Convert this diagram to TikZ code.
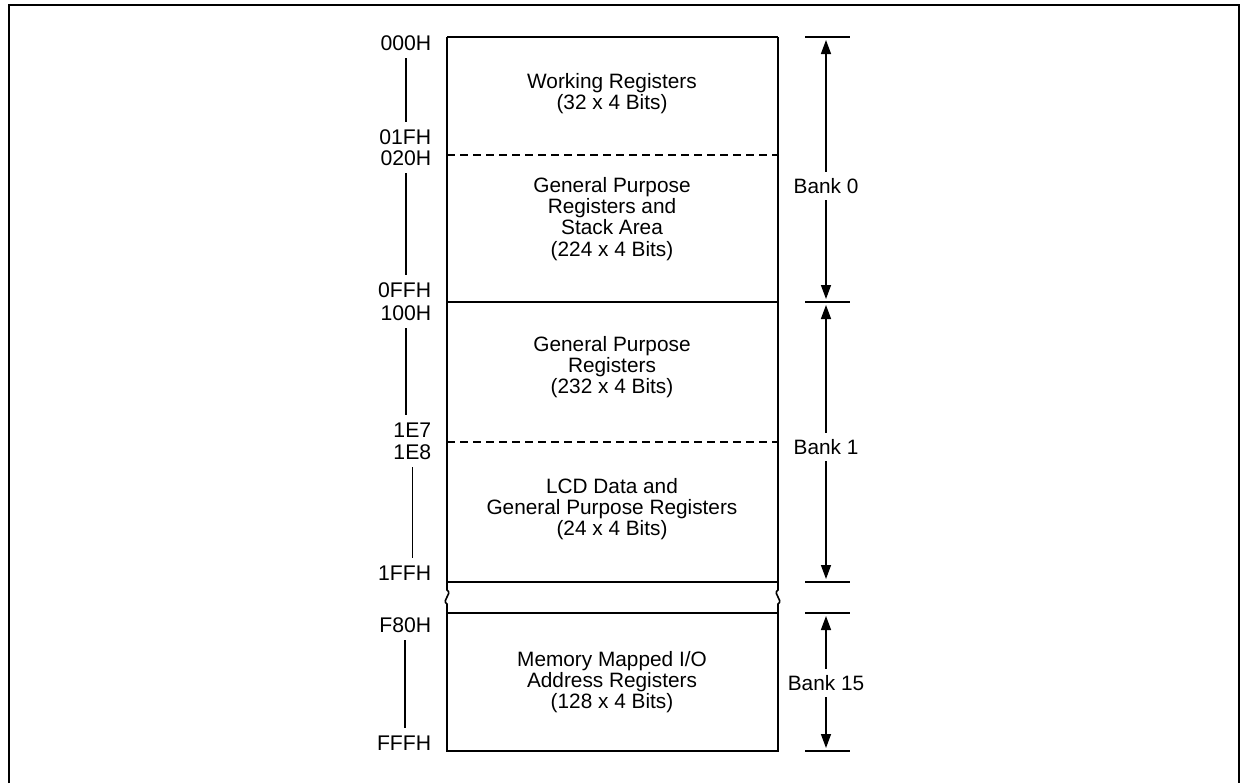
\documentclass[tikz,border=0pt]{standalone}
\usepackage{fontspec}
\setmainfont{Liberation Sans}
\usetikzlibrary{arrows.meta}

\begin{document}
\begin{tikzpicture}[
  x=0.5pt, y=-0.5pt,
  font=\fontsize{10.4}{10.6}\selectfont,
  >={Triangle[length=7pt,width=5pt]},
  line width=0.8pt,
  region/.style={align=center, inner sep=2pt},
  addr/.style={anchor=east, inner xsep=3pt, inner ysep=0.5pt, font=\fontsize{10.6}{11}\selectfont},
  span/.style={shorten <=3pt, shorten >=3pt},
  bank/.style={inner sep=3pt},
  divider/.style={dash pattern=on 4pt off 2.5pt},
  tick/.style={line width=0.8pt},
  arr/.style={->, line width=0.7pt, shorten >=1.5pt},
]
% Grid in pixels of the scan: map columns \xl..\xr, bank arrows at \xarr;
% rows are the region boundaries from top to bottom.
\def\xl{447}
\def\xr{778}
\def\xmid{612}
\def\xaddr{438}
\def\xarr{826}
\def\ytop{37}
\def\yda{155}
\def\yb{302}
\def\ydb{442}
\def\ybrk{582}
\def\ycont{613}
\def\ybot{751}

\useasboundingbox (0,0) rectangle (1244,783);

% --- Outer frame (open at the bottom) ---------------------------------------
\draw (9,783) -- (9,5) -- (1239,5) -- (1239,783);

% --- Memory map ------------------------------------------------------------
\draw (\xl,\ytop) -- (\xr,\ytop);
\draw[divider] (\xl,\yda) -- (\xr,\yda);
\draw (\xl,\yb) -- (\xr,\yb);
\draw[divider] (\xl,\ydb) -- (\xr,\ydb);
\draw (\xl,\ybrk) -- (\xr,\ybrk);
\draw (\xl,\ycont) -- (\xr,\ycont);
\draw (\xl,\ytop) -- (\xl,590) .. controls (453,594) and (441,600) .. (\xl,604)
  -- (\xl,\ybot) -- (\xr,\ybot) -- (\xr,604) .. controls (784,600) and (772,594) .. (\xr,590)
  -- (\xr,\ytop);

\node[region] (wreg) at (\xmid,94) {Working Registers\\(32 x 4 Bits)};
\node[region] (gpstack) at (\xmid,219) {General Purpose\\Registers and\\Stack Area\\(224 x 4 Bits)};
\node[region] (gpreg) at (\xmid,367) {General Purpose\\Registers\\(232 x 4 Bits)};
\node[region] (lcd) at (\xmid,509) {LCD Data and\\General Purpose Registers\\(24 x 4 Bits)};
\node[region] (mmio) at (\xmid,682) {Memory Mapped I/O\\Address Registers\\(128 x 4 Bits)};

% --- Addresses (left) -------------------------------------------------------
\node[addr] (a000) at (\xaddr,43) {000H};
\node[addr] (a01f) at (\xaddr,137) {01FH};
\node[addr] (a020) at (\xaddr,158) {020H};
\node[addr] (a0ff) at (\xaddr,290) {0FFH};
\node[addr] (a100) at (\xaddr,313) {100H};
\node[addr] (a1e7) at (\xaddr,430) {1E7};
\node[addr] (a1e8) at (\xaddr,452) {1E8};
\node[addr] (a1ff) at (\xaddr,573) {1FFH};
\node[addr] (af80) at (\xaddr,625) {F80H};
\node[addr] (afff) at (\xaddr,743) {FFFH};

\draw[span] (a000.south) -- (a000.south |- a01f.north);
\draw[span] (a020.south) -- (a020.south |- a0ff.north);
\draw[span] (a100.south) -- (a100.south |- a1e7.north);
\draw[span] (a1e8.south) -- (a1e8.south |- a1ff.north);
\draw[span] (af80.south) -- (af80.south |- afff.north);

% --- Banks (right) ----------------------------------------------------------
\coordinate (t0) at (\xarr,\ytop);
\coordinate (t1) at (\xarr,\yb);
\coordinate (t2) at (\xarr,\ybrk);
\coordinate (t3) at (\xarr,\ycont);
\coordinate (t4) at (\xarr,\ybot);
\foreach \t in {t0,t1,t2,t3,t4}
  \draw[tick] ([xshift=-10.5pt]\t) -- ([xshift=12pt]\t);

\node[bank] (bank0) at (\xarr,186) {Bank 0};
\node[bank] (bank1) at (\xarr,447) {Bank 1};
\node[bank] (bank15) at (\xarr,683) {Bank 15};

\draw[arr] (bank0) -- (t0);
\draw[arr] (bank0) -- (t1);
\draw[arr] (bank1) -- (t1);
\draw[arr] (bank1) -- (t2);
\draw[arr] (bank15) -- (t3);
\draw[arr] (bank15) -- (t4);

\end{tikzpicture}
\end{document}
